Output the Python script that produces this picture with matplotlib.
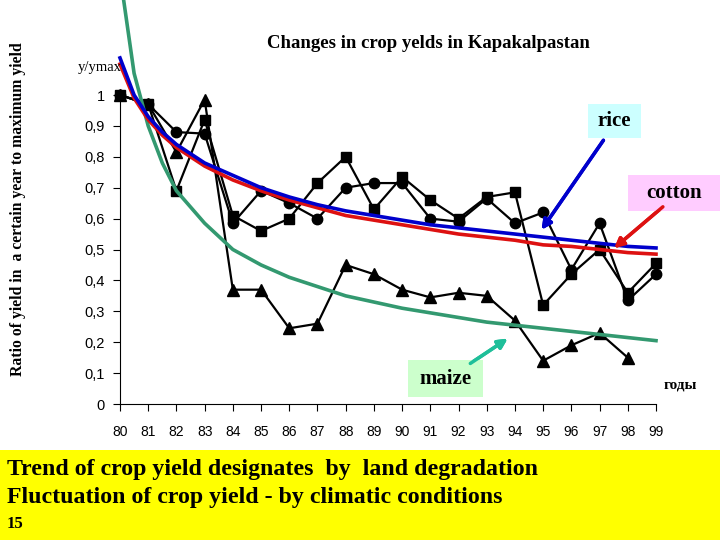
import matplotlib.pyplot as plt
from matplotlib.patches import Rectangle

years = list(range(80, 100))
squares = [1.0, 0.97, 0.69, 0.92, 0.61, 0.56, 0.60, 0.715, 0.80, 0.63,
           0.735, 0.66, 0.60, 0.67, 0.685, 0.32, 0.42, 0.50, 0.36, 0.455]
circles = [1.0, 0.97, 0.88, 0.875, 0.585, 0.69, 0.65, 0.60, 0.70, 0.715,
           0.715, 0.60, 0.59, 0.665, 0.585, 0.62, 0.435, 0.585, 0.335, 0.42]
tri_years = list(range(80, 99))
triangles = [1.0, 0.97, 0.815, 0.985, 0.37, 0.37, 0.245, 0.26, 0.45, 0.42,
             0.37, 0.345, 0.36, 0.35, 0.27, 0.14, 0.19, 0.23, 0.15]

# trend curves
trend_x = [80, 80.5, 81, 81.5, 82, 83, 84, 85, 86, 87, 88, 89, 90, 91, 92, 93,
           94, 95, 96, 97, 98, 99]
rice_trend = [1.12, 1.0, 0.93, 0.88, 0.84, 0.78, 0.74, 0.70, 0.67, 0.645, 0.625,
              0.61, 0.595, 0.58, 0.57, 0.56, 0.55, 0.54, 0.53, 0.52, 0.51, 0.505]
cotton_trend = [1.10, 0.99, 0.92, 0.87, 0.83, 0.77, 0.725, 0.69, 0.66, 0.635, 0.61,
                0.595, 0.58, 0.565, 0.55, 0.54, 0.53, 0.515, 0.51, 0.50, 0.49, 0.485]
maize_trend = [1.39, 1.07, 0.90, 0.78, 0.69, 0.585, 0.50, 0.45, 0.41, 0.38, 0.35,
               0.33, 0.31, 0.295, 0.28, 0.265, 0.255, 0.245, 0.235, 0.225, 0.215, 0.205]

ytick_vals = [0, 0.1, 0.2, 0.3, 0.4, 0.5, 0.6, 0.7, 0.8, 0.9, 1.0]
ytick_labels = ['0', '0,1', '0,2', '0,3', '0,4', '0,5', '0,6', '0,7', '0,8', '0,9', '1']

W, H = 720, 540


def px(x, y):
    return x / W, 1 - y / H


fig = plt.figure(figsize=(7.2, 5.4), dpi=100)
ax = fig.add_axes([120 / W, (H - 404) / H, 536 / W, 309 / H])

ax.plot(years, squares, color='black', lw=1.6, marker='s', ms=7.5, clip_on=False, zorder=3)
ax.plot(years, circles, color='black', lw=1.6, marker='o', ms=7.5, clip_on=False, zorder=3)
ax.plot(tri_years, triangles, color='black', lw=1.6, marker='^', ms=8.5, clip_on=False, zorder=3)

ax.plot(trend_x, maize_trend, color='#339970', lw=2.6, clip_on=False, zorder=4)
ax.plot(trend_x, cotton_trend, color='#dd1111', lw=2.6, clip_on=False, zorder=4)
ax.plot(trend_x, rice_trend, color='#0000cc', lw=2.6, clip_on=False, zorder=5)

ax.set_xlim(80, 99)
ax.set_ylim(0, 1)
ax.set_xticks(years)
ax.set_xticklabels([str(y) for y in years], family='Liberation Sans', fontsize=10)
ax.set_yticks(ytick_vals)
ax.set_yticklabels(ytick_labels, family='Liberation Sans', fontsize=10.5)
ax.tick_params(axis='x', direction='out', length=5, pad=10)
ax.tick_params(axis='y', direction='out', length=5, pad=6)
for s in ['top', 'right']:
    ax.spines[s].set_visible(False)
ax.patch.set_visible(False)

serif = 'Liberation Serif'
fig.text(*px(428, 43), 'Changes in crop yelds in Kapakalpastan', ha='center', va='center',
         family=serif, fontweight='bold', fontsize=13.5)
fig.text(*px(100, 67), 'y/ymax', ha='center', va='center', family=serif, fontsize=10.5)
fig.text(*px(18, 209), 'Ratio of yield in  a certain year to maximum yield', rotation=90,
         ha='center', va='center', family=serif, fontweight='bold', fontsize=11.3)
fig.text(*px(680, 385), 'годы', ha='center', va='center', family=serif,
         fontweight='bold', fontsize=11)

# labelled boxes
boxes = [('rice', 588, 104, 53, 34, '#ccffff'),
         ('cotton', 628, 175, 92, 36, '#ffccff'),
         ('maize', 408, 360, 75, 37, '#ccffcc')]
for label, bx, by, bw, bh, col in boxes:
    fig.patches.append(Rectangle(px(bx, by + bh), bw / W, bh / H, transform=fig.transFigure,
                                 facecolor=col, edgecolor='none', zorder=1))
    fig.text(*px(bx + bw / 2, by + bh / 2), label, ha='center', va='center',
             family=serif, fontweight='bold', fontsize=15, zorder=2)

arrows = [((605, 138), (540, 232), '#0000cc'),
          ((665, 205), (612, 250), '#dd1111'),
          ((468, 365), (510, 337), '#1fbf9a')]
for tail, head, col in arrows:
    fig.add_artist(plt.annotate('', xy=px(*head), xytext=px(*tail), xycoords='figure fraction',
                                textcoords='figure fraction',
                                arrowprops=dict(arrowstyle='-|>', color=col, lw=2.5,
                                                mutation_scale=14)))

# yellow note at the bottom
fig.patches.append(Rectangle((0, 0), 1, 90 / H, transform=fig.transFigure,
                             facecolor='#ffff00', edgecolor='none', zorder=0))
fig.text(*px(7, 470), 'Trend of crop yield designates  by  land degradation', ha='left',
         va='center', family=serif, fontweight='bold', fontsize=17.2)
fig.text(*px(7, 498), 'Fluctuation of crop yield - by climatic conditions', ha='left',
         va='center', family=serif, fontweight='bold', fontsize=17.2)
fig.text(*px(7, 524), '15', ha='left', va='center', family=serif, fontweight='bold',
         fontsize=12)

fig.savefig('out.png', dpi=100)
